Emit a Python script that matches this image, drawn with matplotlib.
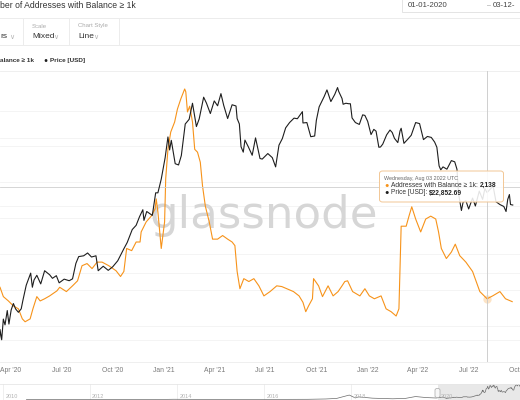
import matplotlib
matplotlib.use("Agg")
import matplotlib.pyplot as plt
import matplotlib.dates as mdates
import pandas as pd
from matplotlib.patches import FancyBboxPatch, Rectangle
from matplotlib.transforms import blended_transform_factory
from matplotlib.ticker import NullLocator

# ---------------- data ----------------
addr_dates = [
    "2020-03-13", "2020-03-19", "2020-03-28", "2020-04-06", "2020-04-15", "2020-04-22", "2020-04-27",
    "2020-05-06", "2020-05-11", "2020-05-18", "2020-05-24", "2020-06-01", "2020-06-10", "2020-06-23",
    "2020-06-28", "2020-07-10", "2020-07-21", "2020-07-30", "2020-08-07", "2020-08-16", "2020-08-25",
    "2020-09-03", "2020-09-12", "2020-09-24", "2020-10-07", "2020-10-15", "2020-10-21", "2020-10-26",
    "2020-11-04", "2020-11-12", "2020-11-19", "2020-11-21", "2020-11-30", "2020-12-09", "2020-12-16",
    "2020-12-18", "2020-12-21", "2020-12-27", "2021-01-02", "2021-01-04", "2021-01-08", "2021-01-13",
    "2021-01-20", "2021-01-25", "2021-01-31", "2021-02-07", "2021-02-09", "2021-02-12", "2021-02-16",
    "2021-02-21", "2021-02-25", "2021-03-02", "2021-03-07", "2021-03-11", "2021-03-16", "2021-03-23",
    "2021-03-29", "2021-04-07", "2021-04-16", "2021-04-25", "2021-05-03", "2021-05-08", "2021-05-12",
    "2021-05-17", "2021-05-24", "2021-06-02", "2021-06-11", "2021-06-20", "2021-06-29", "2021-07-10",
    "2021-07-22", "2021-07-31", "2021-08-09", "2021-08-21", "2021-08-31", "2021-09-07", "2021-09-12",
    "2021-09-17", "2021-09-24", "2021-09-26", "2021-10-05", "2021-10-12", "2021-10-22", "2021-10-31",
    "2021-11-09", "2021-11-16", "2021-11-21", "2021-11-26", "2021-12-05", "2021-12-18", "2021-12-27",
    "2022-01-04", "2022-01-13", "2022-01-25", "2022-02-03", "2022-02-12", "2022-02-21", "2022-02-26",
    "2022-03-02", "2022-03-11", "2022-03-16", "2022-03-21", "2022-03-28", "2022-04-06", "2022-04-15",
    "2022-04-24", "2022-05-03", "2022-05-08", "2022-05-13", "2022-05-22", "2022-05-31", "2022-06-07",
    "2022-06-15", "2022-06-26", "2022-07-08", "2022-07-21", "2022-08-03", "2022-08-13", "2022-08-26",
    "2022-09-05", "2022-09-17",
]
addr_values = [
    2154, 2141, 2135, 2128, 2124, 2110, 2106,
    2110, 2124, 2141, 2135, 2138, 2142, 2149,
    2154, 2148, 2156, 2163, 2184, 2187, 2180,
    2189, 2189, 2184, 2177, 2169, 2176, 2208,
    2205, 2217, 2217, 2231, 2245, 2253, 2263,
    2277, 2259, 2208, 2245, 2305, 2346, 2370,
    2384, 2402, 2416, 2430, 2426, 2398, 2406,
    2384, 2346, 2342, 2328, 2295, 2267, 2245,
    2221, 2221, 2226, 2221, 2217, 2212, 2176,
    2152, 2166, 2162, 2166, 2156, 2142, 2148,
    2156, 2155, 2152, 2148, 2142, 2133, 2120,
    2128, 2138, 2166, 2156, 2141, 2156, 2142,
    2148, 2156, 2162, 2163, 2148, 2142, 2152,
    2142, 2138, 2142, 2124, 2120, 2114, 2124,
    2239, 2239, 2253, 2266, 2249, 2231, 2249,
    2253, 2249, 2231, 2208, 2194, 2203, 2214,
    2198, 2189, 2176, 2148, 2138, 2142, 2148,
    2138, 2134,
]

price_dates = [
    "2020-03-12", "2020-03-13", "2020-03-16", "2020-03-19", "2020-03-22", "2020-03-26", "2020-03-29",
    "2020-04-02", "2020-04-06", "2020-04-10", "2020-04-15", "2020-04-20", "2020-04-23", "2020-04-29",
    "2020-05-07", "2020-05-10", "2020-05-13", "2020-05-18", "2020-05-25", "2020-06-01", "2020-06-10",
    "2020-06-15", "2020-06-22", "2020-06-27", "2020-07-06", "2020-07-15", "2020-07-21", "2020-07-27",
    "2020-08-01", "2020-08-10", "2020-08-17", "2020-08-24", "2020-09-01", "2020-09-05", "2020-09-14",
    "2020-09-23", "2020-10-01", "2020-10-10", "2020-10-21", "2020-10-27", "2020-11-05", "2020-11-12",
    "2020-11-18", "2020-11-24", "2020-11-26", "2020-12-01", "2020-12-11", "2020-12-17", "2020-12-21",
    "2020-12-27", "2021-01-03", "2021-01-08", "2021-01-11", "2021-01-14", "2021-01-21", "2021-01-27",
    "2021-02-01", "2021-02-08", "2021-02-15", "2021-02-21", "2021-02-28", "2021-03-05", "2021-03-13",
    "2021-03-18", "2021-03-25", "2021-04-01", "2021-04-07", "2021-04-13", "2021-04-18", "2021-04-25",
    "2021-05-03", "2021-05-10", "2021-05-12", "2021-05-16", "2021-05-19", "2021-05-23", "2021-05-26",
    "2021-06-01", "2021-06-08", "2021-06-14", "2021-06-22", "2021-06-26", "2021-07-06", "2021-07-14",
    "2021-07-20", "2021-07-26", "2021-08-01", "2021-08-07", "2021-08-14", "2021-08-22", "2021-08-28",
    "2021-09-06", "2021-09-07", "2021-09-14", "2021-09-21", "2021-09-28", "2021-10-01", "2021-10-06",
    "2021-10-15", "2021-10-20", "2021-10-27", "2021-11-03", "2021-11-08", "2021-11-10", "2021-11-16",
    "2021-11-18", "2021-11-23", "2021-11-28", "2021-12-01", "2021-12-04", "2021-12-10", "2021-12-13",
    "2021-12-17", "2021-12-23", "2021-12-27", "2022-01-01", "2022-01-07", "2022-01-12", "2022-01-16",
    "2022-01-21", "2022-01-24", "2022-01-28", "2022-02-04", "2022-02-10", "2022-02-14", "2022-02-18",
    "2022-02-24", "2022-02-28", "2022-03-02", "2022-03-07", "2022-03-14", "2022-03-20", "2022-03-28",
    "2022-04-04", "2022-04-11", "2022-04-18", "2022-04-25", "2022-05-01", "2022-05-05", "2022-05-09",
    "2022-05-12", "2022-05-16", "2022-05-23", "2022-05-31", "2022-06-06", "2022-06-10", "2022-06-13",
    "2022-06-18", "2022-06-21", "2022-06-26", "2022-07-01", "2022-07-08", "2022-07-13", "2022-07-20",
    "2022-07-26", "2022-07-30", "2022-08-03", "2022-08-10", "2022-08-14", "2022-08-19", "2022-08-26",
    "2022-09-02", "2022-09-06", "2022-09-09", "2022-09-12", "2022-09-14", "2022-09-18",
]
price_values = [
    4970, 5560, 5000, 6190, 5830, 6760, 5880,
    6800, 7270, 6870, 6640, 6880, 7500, 8780,
    9950, 8600, 9270, 9730, 8900, 10200, 9780,
    9430, 9690, 9000, 9350, 9200, 9380, 11000,
    11800, 11900, 12250, 11750, 11900, 10200, 10680,
    10240, 10620, 11300, 12800, 13650, 15600, 16300,
    17800, 19150, 17150, 18800, 18060, 22800, 22800,
    26270, 32800, 40600, 35500, 39200, 30800, 30400,
    33500, 46400, 48700, 57500, 45200, 48900, 61200,
    57600, 51700, 58900, 56000, 63500, 56200, 49100,
    56600, 55900, 49100, 46400, 36700, 34700, 39300,
    36700, 33600, 40200, 32500, 32300, 34200, 32800,
    29800, 37300, 39900, 44600, 47100, 49300, 49000,
    52700, 46900, 47100, 40700, 41000, 48200, 55400,
    61600, 66000, 58500, 63000, 67600, 65000, 60400,
    56900, 57500, 57200, 57200, 49400, 47100, 46700,
    46200, 51000, 50700, 47700, 41600, 43900, 43100,
    36500, 36600, 37700, 41500, 43600, 42500, 40000,
    38300, 43200, 44400, 38000, 39700, 41300, 47100,
    46600, 39500, 40800, 40400, 38500, 36500, 30100,
    28900, 29800, 29100, 31800, 31400, 29100, 22500,
    19000, 20700, 21000, 19300, 21600, 19900, 23200,
    21300, 23800, 22850, 23900, 24300, 20800, 20200,
    19800, 18800, 21300, 22400, 20200, 20100,
]

# older price history for the navigator strip
hist_dates = [
    "2010-07-17", "2011-06-08", "2011-12-01", "2013-04-09", "2013-07-01", "2013-12-04", "2014-06-01",
    "2015-01-14", "2015-12-01", "2016-06-17", "2017-01-01", "2017-06-01", "2017-09-01", "2017-12-17",
    "2018-02-06", "2018-03-05", "2018-06-29", "2018-11-25", "2018-12-15", "2019-04-02", "2019-06-26",
    "2019-09-25", "2019-12-17", "2020-01-14", "2020-02-13",
]
hist_values = [
    0.05, 30, 3, 230, 90, 1150, 650,
    180, 400, 750, 1000, 2400, 4700, 19300,
    6900, 11500, 5900, 3800, 3200, 4900, 12900,
    8400, 6600, 8800, 10300,
]

tick_dates = ["2020-04-01", "2020-07-01", "2020-10-01", "2021-01-01", "2021-04-01", "2021-07-01",
              "2021-10-01", "2022-01-01", "2022-04-01", "2022-07-01", "2022-10-01"]
tick_labels = ["Apr '20", "Jul '20", "Oct '20", "Jan '21", "Apr '21", "Jul '21",
               "Oct '21", "Jan '22", "Apr '22", "Jul '22", "Oct '22"]
nav_years = ["2010", "2012", "2014", "2016", "2018", "2020"]
addr_grid = [2100, 2150, 2200, 2250, 2300, 2350, 2400]
price_grid = [5000, 10000, 20000, 40000]

cursor_date = "2022-08-03"
cursor_price_level = 24200
tooltip_day = "Wednesday, Aug 03 2022 UTC"
tooltip_addr = 2138
tooltip_price = 22852.69

# ---------------- style ----------------
ORANGE = "#f7931a"
BLACK = "#1e1e1e"
UI = ["Liberation Sans", "DejaVu Sans"]
W, H = 520, 400


def dn(s):
    return mdates.date2num(pd.Timestamp(s))


fig = plt.figure(figsize=(5.2, 4.0), dpi=100)
fig.patch.set_facecolor("white")


def fx(x):
    return x / W


def fy(y):
    return 1 - y / H


def T(x, y, s, size, color="#333333", weight="normal", ha="left", **kw):
    return fig.text(fx(x), fy(y), s, fontsize=size, color=color, fontweight=weight,
                    ha=ha, va="center", family=UI, **kw)


def hline(y, x0=0, x1=W, color="#ececec"):
    fig.add_artist(plt.Line2D([fx(x0), fx(x1)], [fy(y), fy(y)], transform=fig.transFigure,
                              color=color, lw=0.7))


def vline(x, y0, y1, color="#ececec"):
    fig.add_artist(plt.Line2D([fx(x), fx(x)], [fy(y0), fy(y1)], transform=fig.transFigure,
                              color=color, lw=0.7))


# ---------------- header ----------------
T(0, 5.5, "ber of Addresses with Balance ≥ 1k", 6.2, color="#333333")
fig.add_artist(Rectangle((fx(402), fy(12)), fx(140), 12 / H + 0.01, transform=fig.transFigure,
                         facecolor="white", edgecolor="#e4e4e4", lw=0.7))
T(408, 5.5, "01-01-2020", 5.6, color="#444444")
T(487, 5.5, "–", 5.0, color="#999999")
T(493, 5.5, "03-12-", 5.6, color="#444444")
hline(17.5)
T(0, 37, "rs", 6.0)
T(9.5, 37.5, "∨", 5.0, color="#b5b5b5")
vline(23, 18, 45)
T(32, 26, "Scale", 4.3, color="#aaaaaa")
T(32, 37, "Mixed", 6.0)
T(53.5, 37.5, "∨", 5.0, color="#b5b5b5")
vline(69, 18, 45)
T(78, 26, "Chart Style", 4.3, color="#aaaaaa")
T(78, 37, "Line", 6.0)
T(93.5, 37.5, "∨", 5.0, color="#b5b5b5")
vline(119, 18, 45)
hline(45)
T(0, 60.5, "alance ≥ 1k", 4.6, color="#333333", weight="bold")
T(45, 60.5, "●", 4.8, color=BLACK, ha="center")
T(49.5, 60.5, "Price [USD]", 4.6, color="#333333", weight="bold")

# ---------------- main chart ----------------
ax = fig.add_axes([0, fy(362), 1, (362 - 71) / H])
ax2 = ax.twinx()

ad = [dn(d) for d in addr_dates]
pdts = [dn(d) for d in price_dates]
ax.set_xlim(dn("2020-03-13"), dn("2022-09-17"))
ax.set_ylim(2050, 2455)
ax2.set_yscale("log")
ax2.set_ylim(3974, 80213)

for v in addr_grid:
    ax.axhline(v, color="#f3f3f3", lw=0.6, zorder=0)
bt = blended_transform_factory(ax.transAxes, ax2.transData)
for v in price_grid:
    ax.plot([0, 1], [v, v], transform=bt, color="#f3f3f3", lw=0.6, zorder=0)

ax.text(fx(149), fy(228), "glassnode", transform=fig.transFigure, fontsize=32.5,
        color="#d6d6d6", family="DejaVu Sans", ha="left", va="baseline", zorder=1)

ax.plot(ad, addr_values, color=ORANGE, lw=0.8, zorder=3)
ax2.axhline(cursor_price_level, color="#cfcfcf", lw=0.6, zorder=1)
ax2.plot(pdts, price_values, color=BLACK, lw=0.8, zorder=3)
ax2.axvline(dn(cursor_date), color="#c8c8c8", lw=0.6, zorder=4)
ax.plot([dn(cursor_date)], [tooltip_addr], "o", ms=6, color=ORANGE, alpha=0.25,
        mec="none", zorder=4)

ax.set_xticks([dn(d) for d in tick_dates])
ax.set_xticklabels(tick_labels)
ax.tick_params(axis="x", length=0, labelsize=4.9, labelcolor="#7a7a7a", pad=3.5)
for lab in ax.get_xticklabels():
    lab.set_family(UI)
ax.tick_params(axis="y", left=False, labelleft=False)
ax2.set_yticks([])
ax2.yaxis.set_minor_locator(NullLocator())
ax2.tick_params(axis="y", right=False, labelright=False)
for s in ["left", "right"]:
    ax.spines[s].set_visible(False)
for s in ax2.spines.values():
    s.set_visible(False)
ax.spines["top"].set_color("#ececec")
ax.spines["bottom"].set_color("#ececec")
ax.spines["top"].set_linewidth(0.6)
ax.spines["bottom"].set_linewidth(0.6)

# ---------------- tooltip ----------------
box = FancyBboxPatch((fx(379.5), fy(202)), fx(124), 31 / H,
                     boxstyle="round,pad=0,rounding_size=0.006", transform=fig.transFigure,
                     facecolor=(1, 1, 1, 0.88), edgecolor="#f2c795", lw=0.7, zorder=5)
fig.add_artist(box)
T(384, 178.5, tooltip_day, 3.9, color="#666666", zorder=6)
T(386.5, 185.5, "●", 5.2, color=ORANGE, ha="center", zorder=6)
T(386.5, 193, "●", 5.2, color=BLACK, ha="center", zorder=6)
fig.canvas.draw()
rend = fig.canvas.get_renderer()
t1 = T(391, 185.5, "Addresses with Balance ≥ 1k:", 4.8, color="#333333", zorder=6)
t2 = T(391, 193, "Price [USD]:", 4.8, color="#333333", zorder=6)
x1 = t1.get_window_extent(renderer=rend).x1 * W / fig.bbox.width
x2 = t2.get_window_extent(renderer=rend).x1 * W / fig.bbox.width
T(x1 + 2.0, 185.5, f"{tooltip_addr:,}", 4.8, color="#222222", weight="bold", zorder=6)
T(x2 + 2.0, 193, f"${tooltip_price:,.2f}", 4.8, color="#222222", weight="bold", zorder=6)

# ---------------- navigator ----------------
nav = fig.add_axes([0, 0, 1, 16 / H])
nav.set_xlim(dn("2009-12-07"), dn("2021-11-19"))
nav.set_ylim(-2000, 67000)
nav.axvspan(dn("2020-01-01"), dn("2021-11-19"), color="#e8e8e8", zorder=0, lw=0)
nb = blended_transform_factory(nav.transData, nav.transAxes)
for yl in nav_years[:-1]:
    nav.plot([dn(yl + "-01-01")] * 2, [0, 1], transform=nb, color="#ececec", lw=0.6, zorder=0)
for yl in nav_years:
    nav.annotate(yl, xy=(dn(yl + "-01-01"), 0.2), xycoords=nb, xytext=(1.6, 0),
                 textcoords="offset points", va="center", ha="left", fontsize=4.0,
                 color="#b3b3b3", family=UI)
nav.plot([dn(d) for d in hist_dates + price_dates], hist_values + price_values,
         color="#6a6a6a", lw=0.5, zorder=2)
nav.set_xticks([])
nav.set_yticks([])
for s in ["left", "right", "bottom"]:
    nav.spines[s].set_visible(False)
nav.spines["top"].set_color("#e6e6e6")
nav.spines["top"].set_linewidth(0.6)
fig.add_artist(FancyBboxPatch((fx(435), fy(397.5)), fx(5), 9 / H,
                              boxstyle="round,pad=0,rounding_size=0.004", transform=fig.transFigure,
                              facecolor="#f7f7f7", edgecolor="#a8a8a8", lw=0.5, zorder=5))

fig.savefig("out.png", dpi=100, facecolor="white")
